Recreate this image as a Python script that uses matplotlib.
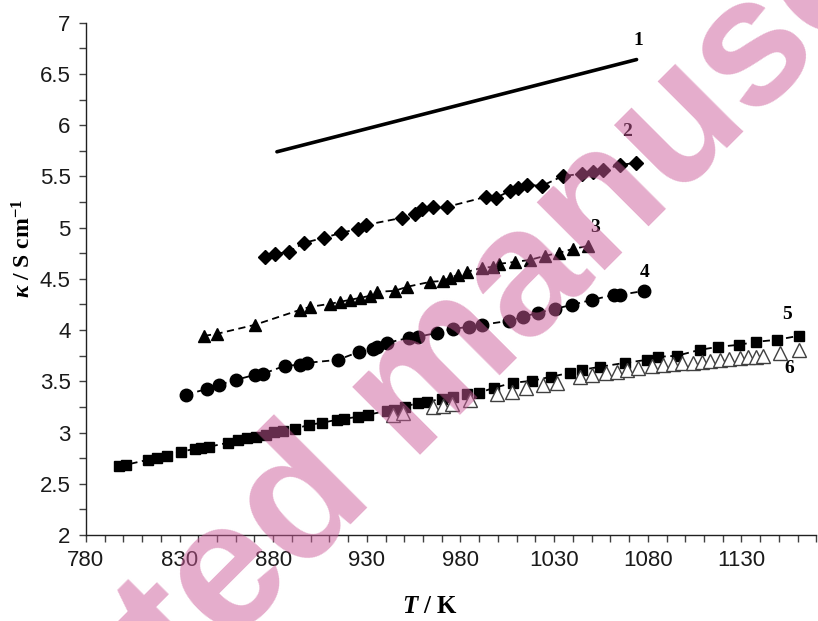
import matplotlib
matplotlib.use('Agg')
import matplotlib.pyplot as plt
from matplotlib.ticker import MultipleLocator

# curve 1: solid line
T1 = [882, 1074]
k1 = [5.74, 6.64]

# curve 2: diamonds
T2 = [875.6, 880.9, 888.4, 896.4, 907.1, 916.1, 925.2, 929.5, 948.7, 955.7,
      959.4, 965.3, 972.7, 993.6, 998.9, 1006.4, 1010.6, 1015.5, 1023.5, 1034.7,
      1044.8, 1050.7, 1056.0, 1065.1, 1073.6]
k2 = [4.714, 4.743, 4.763, 4.851, 4.900, 4.948, 4.987, 5.026, 5.095, 5.134,
      5.183, 5.202, 5.202, 5.300, 5.290, 5.358, 5.387, 5.417, 5.407, 5.504,
      5.524, 5.544, 5.563, 5.612, 5.631]

# curve 3: filled triangles
T3 = [843.0, 849.9, 870.2, 894.3, 899.6, 910.3, 915.6, 921.0, 926.3, 931.6,
      935.4, 945.0, 951.4, 963.7, 970.6, 974.3, 978.6, 983.4, 991.4, 997.3,
      1000.5, 1009.0, 1017.1, 1025.1, 1032.5, 1040.0, 1048.0]
k3 = [3.943, 3.963, 4.051, 4.197, 4.226, 4.256, 4.275, 4.295, 4.314, 4.334,
      4.373, 4.383, 4.422, 4.470, 4.480, 4.509, 4.538, 4.568, 4.607, 4.617,
      4.646, 4.665, 4.685, 4.724, 4.753, 4.792, 4.821]

# curve 4: circles
T4 = [833.4, 844.6, 851.0, 860.1, 870.2, 874.5, 886.2, 894.3, 898.0, 914.5,
      925.8, 933.2, 935.4, 940.7, 952.5, 957.3, 967.4, 975.9, 984.5, 991.4,
      1005.8, 1013.3, 1021.3, 1030.4, 1039.5, 1050.2, 1061.9, 1065.1, 1077.9]
k4 = [3.368, 3.426, 3.465, 3.514, 3.563, 3.573, 3.651, 3.661, 3.680, 3.709,
      3.787, 3.816, 3.836, 3.875, 3.924, 3.934, 3.973, 4.012, 4.031, 4.051,
      4.090, 4.129, 4.168, 4.207, 4.246, 4.295, 4.343, 4.343, 4.382]

# curve 5: squares
T5 = [797.6, 801.4, 813.1, 817.9, 823.2, 830.7, 838.2, 841.4, 845.7, 855.8,
      861.2, 866.0, 870.8, 876.1, 880.4, 885.2, 891.6, 899.1, 906.0, 914.0,
      917.7, 925.2, 930.6, 940.7, 944.4, 950.3, 957.3, 962.1, 970.1, 975.9,
      983.4, 989.8, 997.8, 1008.0, 1018.1, 1028.3, 1038.4, 1044.8, 1054.4, 1067.8,
      1079.5, 1085.4, 1095.5, 1107.8, 1117.4, 1128.6, 1137.7, 1148.9, 1160.7]
k5 = [2.675, 2.685, 2.734, 2.753, 2.773, 2.812, 2.841, 2.851, 2.861, 2.900,
      2.929, 2.949, 2.958, 2.978, 3.007, 3.017, 3.036, 3.075, 3.095, 3.124,
      3.134, 3.153, 3.173, 3.212, 3.222, 3.251, 3.290, 3.300, 3.329, 3.348,
      3.378, 3.387, 3.436, 3.485, 3.505, 3.544, 3.583, 3.612, 3.641, 3.680,
      3.709, 3.739, 3.749, 3.807, 3.836, 3.856, 3.885, 3.905, 3.944]

# curve 6: open triangles
T6 = [943.9, 949.2, 965.3, 970.6, 975.4, 985.0, 999.4, 1007.4, 1014.9, 1024.0,
      1031.5, 1043.7, 1050.2, 1057.6, 1063.5, 1068.8, 1074.7, 1082.2, 1088.1, 1093.4,
      1098.2, 1104.1, 1108.9, 1113.2, 1118.5, 1123.3, 1129.2, 1133.4, 1137.7, 1141.5,
      1150.5, 1160.7]
k6 = [3.173, 3.192, 3.251, 3.261, 3.280, 3.319, 3.378, 3.397, 3.436, 3.465,
      3.485, 3.544, 3.563, 3.583, 3.592, 3.612, 3.631, 3.651, 3.661, 3.670,
      3.680, 3.680, 3.690, 3.700, 3.709, 3.719, 3.729, 3.739, 3.739, 3.749,
      3.778, 3.807]

curve_labels = ['1', '2', '3', '4', '5', '6']

plt.rcParams['mathtext.fontset'] = 'custom'
plt.rcParams['mathtext.rm'] = 'Liberation Serif:bold'
plt.rcParams['mathtext.it'] = 'Liberation Serif:italic:bold'
plt.rcParams['mathtext.bf'] = 'Liberation Serif:bold'

fig = plt.figure(figsize=(8.18, 6.21), dpi=100)
ax = fig.add_axes([0.105, 0.1385, 0.893, 0.825])

dash = dict(color='black', ls='--', dashes=(4, 2.5), lw=1.3)
ax.plot(T1, k1, color='black', lw=2.6, solid_capstyle='round')
ax.plot(T2, k2, marker='D', ms=7, mfc='black', mec='black', **dash)
ax.plot(T3, k3, marker='^', ms=8.5, mfc='black', mec='black', **dash)
ax.plot(T4, k4, marker='o', ms=9, mfc='black', mec='black', **dash)
ax.plot(T5, k5, marker='s', ms=7, mfc='black', mec='black', **dash)
ax.plot(T6, k6, ls='none', marker='^', ms=9.5, mfc='white', mec='#404040', mew=1.0)

# curve numbers
lab_pos = [(1074.7, 6.83), (1068.8, 5.94), (1051.8, 5.00),
           (1078.5, 4.56), (1154.3, 4.15), (1155.3, 3.62)]
for s, (x, y) in zip(curve_labels, lab_pos):
    ax.text(x, y, s, ha='center', va='center', fontsize=14,
            family='Liberation Serif', weight='bold')

ax.set_xlim(780, 1170)
ax.set_ylim(2, 7)
ax.xaxis.set_major_locator(MultipleLocator(50))
ax.xaxis.set_minor_locator(MultipleLocator(10))
ax.yaxis.set_major_locator(MultipleLocator(0.5))
ax.yaxis.set_minor_locator(MultipleLocator(0.25))
ax.set_xticks(range(780, 1131, 50))
ax.set_yticks([2, 2.5, 3, 3.5, 4, 4.5, 5, 5.5, 6, 6.5, 7])
ax.set_yticklabels(['2', '2.5', '3', '3.5', '4', '4.5', '5', '5.5', '6', '6.5', '7'])

for side in ['top', 'right']:
    ax.spines[side].set_visible(False)
for side in ['left', 'bottom']:
    ax.spines[side].set_color('#202020')
    ax.spines[side].set_linewidth(1.0)

ax.tick_params(which='both', direction='out', color='#404040', length=5, width=1)
ax.tick_params(which='major', labelsize=16, labelcolor='#1a1a1a', pad=6)
for lab in ax.get_xticklabels() + ax.get_yticklabels():
    lab.set_family('Liberation Sans')

ax.set_xlabel(r'$T$ / K', fontsize=18, family='Liberation Serif', weight='bold')
ax.set_ylabel(r'$\kappa$ / S cm$^{-1}$', fontsize=17, family='Liberation Serif', weight='bold')
ax.xaxis.set_label_coords(0.471, -0.118)
ax.yaxis.set_label_coords(-0.069, 0.56)

# watermark
fig.text(0.511, 0.37, 'Accepted manuscript', fontsize=130, family='Liberation Sans',
         weight='bold', rotation=45, rotation_mode='anchor', ha='center', va='center',
         color=(0.8, 0.36, 0.6), alpha=0.5, zorder=10)

fig.savefig('out.png', dpi=100)
